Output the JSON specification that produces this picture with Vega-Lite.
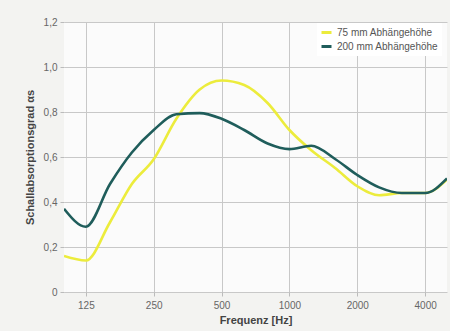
{
  "$schema": "https://vega.github.io/schema/vega-lite/v6.json",
  "autosize": "none",
  "padding": {"left": 64, "top": 22, "right": 3, "bottom": 39},
  "width": 383,
  "height": 270,
  "background": "#f3f3f1",
  "config": {
    "view": {"fill": "#fbfbfb", "stroke": null},
    "font": "Liberation Sans"
  },
  "data": {
    "values": [
      {"f": 100, "a": 0.16, "s": "75 mm Abhängehöhe"},
      {"f": 125, "a": 0.14, "s": "75 mm Abhängehöhe"},
      {"f": 160, "a": 0.31, "s": "75 mm Abhängehöhe"},
      {"f": 200, "a": 0.48, "s": "75 mm Abhängehöhe"},
      {"f": 250, "a": 0.59, "s": "75 mm Abhängehöhe"},
      {"f": 315, "a": 0.77, "s": "75 mm Abhängehöhe"},
      {"f": 400, "a": 0.90, "s": "75 mm Abhängehöhe"},
      {"f": 500, "a": 0.94, "s": "75 mm Abhängehöhe"},
      {"f": 630, "a": 0.92, "s": "75 mm Abhängehöhe"},
      {"f": 800, "a": 0.84, "s": "75 mm Abhängehöhe"},
      {"f": 1000, "a": 0.72, "s": "75 mm Abhängehöhe"},
      {"f": 1250, "a": 0.63, "s": "75 mm Abhängehöhe"},
      {"f": 1600, "a": 0.55, "s": "75 mm Abhängehöhe"},
      {"f": 2000, "a": 0.47, "s": "75 mm Abhängehöhe"},
      {"f": 2500, "a": 0.43, "s": "75 mm Abhängehöhe"},
      {"f": 3150, "a": 0.44, "s": "75 mm Abhängehöhe"},
      {"f": 4000, "a": 0.44, "s": "75 mm Abhängehöhe"},
      {"f": 5000, "a": 0.50, "s": "75 mm Abhängehöhe"},
      {"f": 100, "a": 0.37, "s": "200 mm Abhängehöhe"},
      {"f": 125, "a": 0.29, "s": "200 mm Abhängehöhe"},
      {"f": 160, "a": 0.48, "s": "200 mm Abhängehöhe"},
      {"f": 200, "a": 0.62, "s": "200 mm Abhängehöhe"},
      {"f": 250, "a": 0.72, "s": "200 mm Abhängehöhe"},
      {"f": 315, "a": 0.79, "s": "200 mm Abhängehöhe"},
      {"f": 400, "a": 0.795, "s": "200 mm Abhängehöhe"},
      {"f": 500, "a": 0.77, "s": "200 mm Abhängehöhe"},
      {"f": 630, "a": 0.72, "s": "200 mm Abhängehöhe"},
      {"f": 800, "a": 0.66, "s": "200 mm Abhängehöhe"},
      {"f": 1000, "a": 0.635, "s": "200 mm Abhängehöhe"},
      {"f": 1250, "a": 0.65, "s": "200 mm Abhängehöhe"},
      {"f": 1600, "a": 0.59, "s": "200 mm Abhängehöhe"},
      {"f": 2000, "a": 0.52, "s": "200 mm Abhängehöhe"},
      {"f": 2500, "a": 0.465, "s": "200 mm Abhängehöhe"},
      {"f": 3150, "a": 0.44, "s": "200 mm Abhängehöhe"},
      {"f": 4000, "a": 0.44, "s": "200 mm Abhängehöhe"},
      {"f": 5000, "a": 0.505, "s": "200 mm Abhängehöhe"}
    ]
  },
  "mark": {"type": "line", "interpolate": "monotone", "strokeWidth": 2.6, "clip": true},
  "encoding": {
    "x": {
      "field": "f", "type": "quantitative",
      "scale": {"type": "log", "domain": [100, 5000], "nice": false},
      "axis": {
        "values": [125, 250, 500, 1000, 2000, 4000],
        "format": "d",
        "title": "Frequenz [Hz]",
        "titleFontSize": 11, "titleFontWeight": "bold", "titleColor": "#444",
        "titlePadding": 4,
        "labelFontSize": 10, "labelColor": "#666", "labelPadding": 4,
        "domain": false, "tickColor": "#bbb", "tickSize": 4,
        "grid": true, "gridColor": "#c8c8c8", "gridWidth": 1
      }
    },
    "y": {
      "field": "a", "type": "quantitative",
      "scale": {"domain": [0, 1.2], "nice": false},
      "axis": {
        "values": [0, 0.2, 0.4, 0.6, 0.8, 1.0, 1.2],
        "labelExpr": "datum.value == 0 ? '0' : replace(format(datum.value, '.1f'), '.', ',')",
        "title": "Schallabsorptionsgrad αs",
        "titleFontSize": 11, "titleFontWeight": "bold", "titleColor": "#444",
        "titlePadding": 8,
        "labelFontSize": 10, "labelColor": "#666", "labelPadding": 3,
        "domain": false, "tickColor": "#bbb", "tickSize": 4,
        "grid": true, "gridColor": "#c8c8c8", "gridWidth": 1
      }
    },
    "color": {
      "field": "s", "type": "nominal",
      "sort": ["75 mm Abhängehöhe", "200 mm Abhängehöhe"],
      "scale": {"domain": ["75 mm Abhängehöhe", "200 mm Abhängehöhe"], "range": ["#ecec3c", "#1f5d5b"]},
      "legend": {
        "title": null, "orient": "none", "legendX": 253, "legendY": 1,
        "labelFontSize": 10, "labelColor": "#555",
        "symbolType": "stroke", "symbolStrokeWidth": 3, "symbolSize": 100,
        "fillColor": "#ffffff", "padding": 3, "rowPadding": 1
      }
    }
  }
}
